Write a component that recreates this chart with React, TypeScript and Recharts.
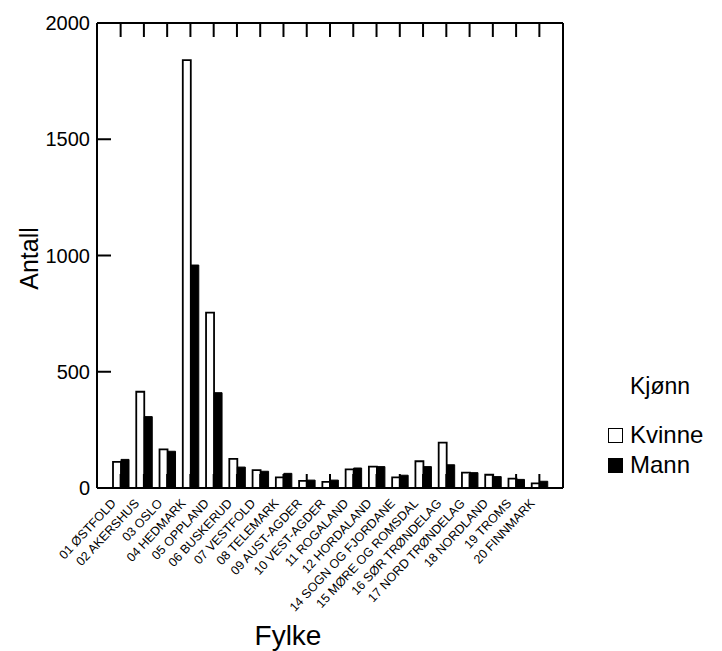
import { BarChart, Bar, XAxis, YAxis } from "recharts";

// Antall personer etter fylke og kjønn
const FYLKER = [
  "01 ØSTFOLD", "02 AKERSHUS", "03 OSLO", "04 HEDMARK", "05 OPPLAND",
  "06 BUSKERUD", "07 VESTFOLD", "08 TELEMARK", "09 AUST-AGDER", "10 VEST-AGDER",
  "11 ROGALAND", "12 HORDALAND", "14 SOGN OG FJORDANE", "15 MØRE OG ROMSDAL",
  "16 SØR TRØNDELAG", "17 NORD TRØNDELAG", "18 NORDLAND", "19 TROMS", "20 FINNMARK",
];
const KVINNE = [112, 414, 166, 1840, 754, 125, 77, 46, 31, 26, 80, 92, 46, 115, 195, 66, 57, 40, 20];
const MANN = [123, 307, 158, 959, 410, 90, 72, 63, 34, 34, 86, 92, 55, 92, 100, 66, 49, 37, 29];
const Y_TICKS = [0, 500, 1000, 1500, 2000];
const SERIES = ["Kvinne", "Mann"];

const FONT = "'Liberation Sans', Arial, Helvetica, sans-serif";
const TICK_LEN = 14;

const data = FYLKER.map((name, i) => ({ name, Kvinne: KVINNE[i], Mann: MANN[i] }));

// ─── custom ticks (all tick marks point inward) ─────────────
function BottomTick({ x, y, payload }: any) {
  return (
    <g>
      <line x1={x} y1={y} x2={x} y2={y - TICK_LEN} stroke="#000" strokeWidth={2} />
      <text
        x={x - 4}
        y={y + 16}
        textAnchor="end"
        fontSize={12.5}
        fontFamily={FONT}
        fill="#000"
        transform={`rotate(-47 ${x - 4} ${y + 16})`}
      >
        {payload.value}
      </text>
    </g>
  );
}

function TopTick({ x, y }: any) {
  return <line x1={x} y1={y} x2={x} y2={y + TICK_LEN} stroke="#000" strokeWidth={2} />;
}

function LeftTick({ x, y, payload }: any) {
  const edge = payload.value === 0 || payload.value === 2000;
  return (
    <g>
      {!edge && <line x1={x} y1={y} x2={x + TICK_LEN} y2={y} stroke="#000" strokeWidth={2} />}
      <text x={x - 7} y={y} dy="0.36em" textAnchor="end" fontSize={20} fontFamily={FONT} fill="#000">
        {payload.value}
      </text>
    </g>
  );
}

function RightTick({ x, y, payload }: any) {
  if (payload.value === 0 || payload.value === 2000) return <g />;
  return <line x1={x} y1={y} x2={x - TICK_LEN} y2={y} stroke="#000" strokeWidth={2} />;
}

export default function App() {
  return (
    <div style={{ position: "absolute", left: 0, top: 0, width: 722, height: 651, background: "#fff" }}>
      <BarChart
        width={722}
        height={651}
        data={data}
        margin={{ top: 22, right: 158, left: 0, bottom: 0 }}
        barCategoryGap={4}
        barGap={0}
      >
        <XAxis
          dataKey="name"
          interval={0}
          height={163}
          padding={{ left: 12, right: 12 }}
          tickLine={false}
          tickSize={0}
          tickMargin={0}
          axisLine={{ stroke: "#000", strokeWidth: 2 }}
          tick={<BottomTick />}
          label={(p: any) => {
            const vb = p.viewBox;
            return (
              <text x={vb.x + 191} y={vb.y + 157} textAnchor="middle" fontSize={28} fontFamily={FONT} fill="#000">
                Fylke
              </text>
            );
          }}
        />
        <XAxis
          xAxisId="top"
          orientation="top"
          dataKey="name"
          interval={0}
          height={1}
          padding={{ left: 12, right: 12 }}
          tickLine={false}
          tickSize={0}
          tickMargin={0}
          axisLine={{ stroke: "#000", strokeWidth: 2 }}
          tick={<TopTick />}
        />
        <YAxis
          width={97}
          domain={[0, 2000]}
          ticks={Y_TICKS}
          interval={0}
          tickLine={false}
          tickSize={0}
          tickMargin={0}
          axisLine={{ stroke: "#000", strokeWidth: 2 }}
          tick={<LeftTick />}
          label={(p: any) => {
            const vb = p.viewBox;
            const cx = vb.x + 38;
            const cy = vb.y + vb.height / 2 + 3;
            return (
              <text x={cx} y={cy} textAnchor="middle" fontSize={25} fontFamily={FONT} fill="#000"
                transform={`rotate(-90 ${cx} ${cy})`}>
                Antall
              </text>
            );
          }}
        />
        <YAxis
          yAxisId="right"
          orientation="right"
          width={1}
          domain={[0, 2000]}
          ticks={Y_TICKS}
          interval={0}
          tickLine={false}
          tickSize={0}
          tickMargin={0}
          axisLine={{ stroke: "#000", strokeWidth: 2 }}
          tick={<RightTick />}
        />
        <Bar dataKey="Kvinne" fill="#fff" stroke="#000" strokeWidth={1.8} isAnimationActive={false} />
        <Bar dataKey="Mann" fill="#000" stroke="#000" strokeWidth={1} isAnimationActive={false} />
      </BarChart>

      <div style={{ position: "absolute", left: 608, top: 371, fontFamily: FONT, color: "#000" }}>
        <div style={{ fontSize: 23, marginLeft: 22, lineHeight: "30px", marginBottom: 19 }}>Kjønn</div>
        {SERIES.map((s, i) => (
          <div key={s} style={{ display: "flex", alignItems: "center", height: 30, fontSize: 24 }}>
            <span
              style={{
                display: "inline-block",
                width: 15,
                height: 15,
                marginRight: 7,
                boxSizing: "border-box",
                border: "1.5px solid #000",
                background: i === 0 ? "#fff" : "#000",
              }}
            />
            {s}
          </div>
        ))}
      </div>
    </div>
  );
}
